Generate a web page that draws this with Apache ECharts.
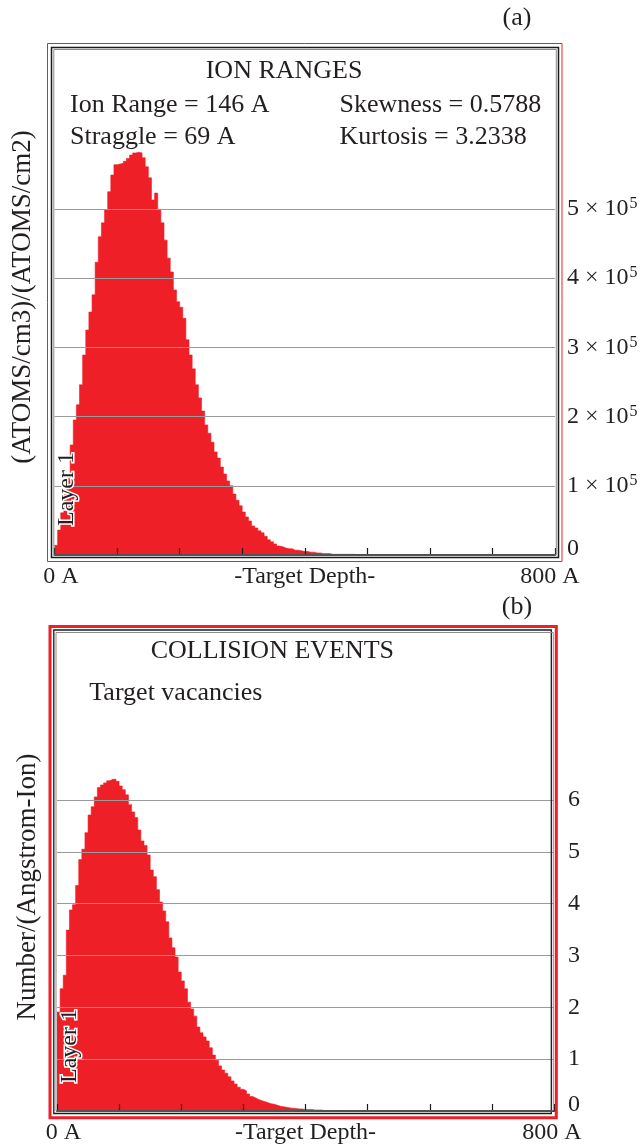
<!DOCTYPE html>
<html><head><meta charset="utf-8">
<script src="https://cdn.jsdelivr.net/npm/echarts@6/dist/echarts.min.js"></script>
<style>html,body{margin:0;padding:0;background:#fff}#c{width:641px;height:1147px}</style>
</head><body><div id="c"></div>
<script>
// ---------------- data ----------------
const binWidth = 5; // Angstrom per histogram bin (bins start at 0 A)
const depthTicks = [0, 100, 200, 300, 400, 500, 600, 700, 800];
const depthLabels = { 0: '0 A', 800: '800 A' };

// (a) ion ranges, (atoms/cm3)/(atoms/cm2), one value per 5 A bin
const ionRanges = [
  14000, 36000, 61000, 87000, 116000, 159000, 195000, 217000, 246000, 289000,
  325000, 351000, 376000, 423000, 460000, 480000, 499000, 525000, 549000, 564000,
  565000, 566000, 569000, 573000, 578000, 581000, 582000, 581000, 574000, 561000,
  545000, 513000, 523000, 499000, 480000, 455000, 429000, 409000, 383000, 366000,
  358000, 342000, 311000, 289000, 269000, 246000, 227000, 208000, 188000, 176000,
  163000, 149000, 140000, 127000, 117000, 107000, 100000, 88000, 79000, 71000,
  62000, 55000, 49000, 42000, 39000, 35000, 32000, 27000, 22000, 19000,
  16000, 13000, 12000, 10000, 9000, 9000, 7000, 7000, 6000, 5000,
  5000, 4000, 4000, 3000, 3000, 2000, 2000, 2000, 1000, 1000,
  1000, 1000, 1000, 1000, 1000, 1000, 0, 0, 0, 0
];
const ionTicks = [0, 100000, 200000, 300000, 400000, 500000];
const ionTickLabels = ['0', '1 × 10^5', '2 × 10^5', '3 × 10^5', '4 × 10^5', '5 × 10^5'];

// (b) target vacancies, number/(Angstrom-Ion), one value per 5 A bin
const vacancies = [
  1.91, 2.36, 2.62, 3.49, 3.88, 3.98, 4.35, 4.85, 5.05, 5.37,
  5.71, 5.87, 6.06, 6.24, 6.29, 6.33, 6.37, 6.40, 6.40, 6.36,
  6.27, 6.20, 6.10, 5.91, 5.77, 5.66, 5.42, 5.21, 5.12, 4.94,
  4.65, 4.52, 4.27, 4.03, 3.86, 3.65, 3.34, 3.15, 2.97, 2.68,
  2.51, 2.36, 2.10, 1.97, 1.83, 1.62, 1.51, 1.43, 1.35, 1.22,
  1.08, 0.98, 0.87, 0.79, 0.73, 0.66, 0.58, 0.52, 0.46, 0.42,
  0.39, 0.33, 0.28, 0.25, 0.22, 0.20, 0.18, 0.16, 0.14, 0.13,
  0.11, 0.09, 0.08, 0.07, 0.06, 0.054, 0.05, 0.04, 0.04, 0.03,
  0.03, 0.03, 0.02, 0.02, 0.02, 0.01, 0.01, 0.01, 0.01, 0.01,
  0.01, 0, 0, 0, 0, 0, 0, 0, 0, 0
];
const vacTicks = [0, 1, 2, 3, 4, 5, 6];
const vacTickLabels = ['0', '1', '2', '3', '4', '5', '6'];

// ---------------- chart ----------------
const FONT = '"Liberation Serif", "Times New Roman", serif';
const INK = '#231f20';
const RED = '#ee1f26';

function toSteps(arr) {
  const pts = arr.map((v, i) => [i * binWidth, v]);
  pts.push([arr.length * binWidth, 0]);
  return pts;
}
function yLabel(ticks, labels) {
  return function (v) {
    const idx = ticks.indexOf(v);
    if (idx < 0) return '';
    const s = labels[idx];
    if (s === '0') return '{z|0}';
    const p = s.split('^');
    return p.length > 1 ? '{n|' + p[0] + '}{s|' + p[1] + '}' : '{n|' + s + '}';
  };
}
const yRich = {
  n: { fontFamily: FONT, fontSize: 24, color: INK, lineHeight: 26 },
  s: { fontFamily: FONT, fontSize: 16, color: INK, verticalAlign: 'top', padding: [0, 0, 0, 1] },
  z: { fontFamily: FONT, fontSize: 24, color: INK, padding: [0, 0, 12, 0] }
};
function xAxisFor(grid, lpad, rpad) {
  return {
    gridIndex: grid, type: 'value', min: 0, max: 800, interval: 100, z: 5,
    axisLine: { lineStyle: { color: '#1a1a1a', width: 2 } },
    axisTick: { inside: true, length: 7, lineStyle: { color: '#1a1a1a', width: 1.2 } },
    splitLine: { show: false },
    axisLabel: {
      margin: 10, showMinLabel: true, showMaxLabel: true,
      formatter: v => (v === 0 ? '{l|' + depthLabels[0] + '}' : v === 800 ? '{r|' + depthLabels[800] + '}' : ''),
      rich: {
        l: { fontFamily: FONT, fontSize: 24, color: INK, lineHeight: 24, padding: [0, 0, 0, lpad] },
        r: { fontFamily: FONT, fontSize: 24, color: INK, lineHeight: 24, padding: [0, rpad, 0, 0] }
      }
    },
    name: '-Target Depth-', nameLocation: 'middle', nameGap: 10, nameMoveOverlap: false,
    nameTextStyle: { fontFamily: FONT, fontSize: 24, color: INK, lineHeight: 24, verticalAlign: 'top' }
  };
}
function yAxisFor(grid, max, interval, ticks, labels, margin) {
  return {
    gridIndex: grid, type: 'value', position: 'right', min: 0, max: max, interval: interval, z: 5,
    axisLine: { show: false }, axisTick: { show: false },
    splitLine: { show: true, lineStyle: { color: '#9a9a9a', width: 1.2 } },
    axisLabel: { margin: margin, formatter: yLabel(ticks, labels), rich: yRich }
  };
}
function txt(text, x, y, size, align, extra) {
  return Object.assign({
    type: 'text', x: x, y: y, z: 100,
    style: {
      text: text, x: 0, y: 0, fill: INK,
      font: size + 'px ' + FONT,
      align: align, textAlign: align, verticalAlign: 'middle', textVerticalAlign: 'middle'
    }
  }, extra || {});
}
function rect(x1, y1, x2, y2, color, w) {
  return { type: 'rect', z: 100, silent: true,
    shape: { x: x1, y: y1, width: x2 - x1, height: y2 - y1 },
    style: { fill: 'none', stroke: color, lineWidth: w } };
}
function layer(x, y) {
  const t = txt('Layer 1', x, y, 24, 'center', { rotation: Math.PI / 2 });
  t.style.stroke = '#ffffff'; t.style.lineWidth = 3; t.z = 101;
  return t;
}

const chart = echarts.init(document.getElementById('c'), null, { renderer: 'canvas' });
chart.setOption({
  animation: false,
  backgroundColor: '#ffffff',
  grid: [
    { left: 54.5, top: 209, width: 500.5, height: 346, outerBoundsMode: 'none', containLabel: false },
    { left: 57, top: 800, width: 497, height: 311, outerBoundsMode: 'none', containLabel: false }
  ],
  xAxis: [xAxisFor(0, 13, 10), xAxisFor(1, 13, 4)],
  yAxis: [
    yAxisFor(0, 500000, 100000, ionTicks, ionTickLabels, 12),
    yAxisFor(1, 6, 1, vacTicks, vacTickLabels, 14)
  ],
  series: [
    { type: 'line', xAxisIndex: 0, yAxisIndex: 0, step: 'end', data: toSteps(ionRanges),
      symbol: 'none', clip: false, silent: true, z: 2,
      lineStyle: { width: 0.6, color: RED }, areaStyle: { color: RED, opacity: 1 } },
    { type: 'line', xAxisIndex: 1, yAxisIndex: 1, step: 'end', data: toSteps(vacancies),
      symbol: 'none', clip: false, silent: true, z: 2,
      lineStyle: { width: 0.6, color: RED }, areaStyle: { color: RED, opacity: 1 } }
  ],
  graphic: { elements: [
    // panel (a) frame
    rect(47.5, 43.5, 562, 561.5, RED, 1),
    rect(51.5, 47.5, 558.5, 557.5, '#1a1a1a', 1.5),
    rect(53.8, 49.5, 556.3, 555, '#8a8a8a', 1),
    // panel (b) frame
    rect(50, 626.5, 556.3, 1117.8, RED, 3),
    rect(53.8, 630, 551.3, 1113.5, '#1a1a1a', 1.3),
    rect(56, 632.5, 553.3, 1111, '#8a8a8a', 1),
    // texts (a)
    txt('(a)', 517, 18, 26, 'center'),
    txt('ION RANGES', 205.7, 71, 26, 'left'),
    txt('Ion Range = 146 A', 70, 105, 26, 'left'),
    txt('Straggle = 69 A', 70, 137, 26, 'left'),
    txt('Skewness = 0.5788', 339.5, 105, 26, 'left'),
    txt('Kurtosis = 3.2338', 339.5, 137, 26, 'left'),
    txt('(ATOMS/cm3)/(ATOMS/cm2)', 22.5, 297, 27, 'center', { rotation: Math.PI / 2 }),
    layer(67, 489),
    // texts (b)
    txt('(b)', 517, 607, 26, 'center'),
    txt('COLLISION EVENTS', 150.7, 651, 26, 'left'),
    txt('Target vacancies', 89.3, 693, 26, 'left'),
    txt('Number/(Angstrom-Ion)', 28, 887, 27, 'center', { rotation: Math.PI / 2 }),
    layer(70, 1046)
  ] }
});
</script>
</body></html>
